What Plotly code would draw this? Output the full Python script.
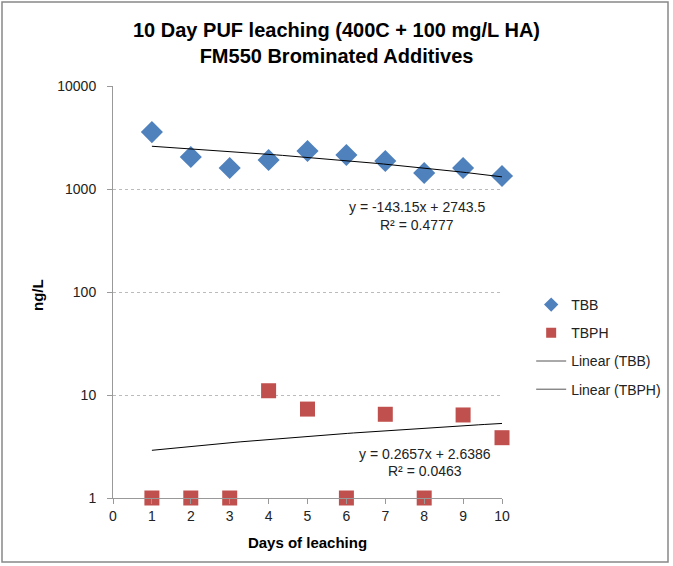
import plotly.graph_objects as go
import numpy as np

days = [1, 2, 3, 4, 5, 6, 7, 8, 9, 10]
tbb = [3570, 2045, 1600, 1915, 2340, 2140, 1870, 1430, 1600, 1337]
tbph = [1, 1, 1, 11.0, 7.3, 1, 6.5, 1, 6.4, 3.85]
tbb_fit = (-143.15, 2743.5)
tbph_fit = (0.2657, 2.6386)
x_ticks = [0, 1, 2, 3, 4, 5, 6, 7, 8, 9, 10]
y_ticks = [1, 10, 100, 1000, 10000]

FONT = "Liberation Sans"
BLUE = "#4F81BD"
RED = "#C0504D"
xs = np.linspace(1, 10, 60)

fig = go.Figure()
fig.add_trace(go.Scatter(x=days, y=tbb, mode="markers", name="TBB", showlegend=False,
                         marker=dict(symbol="diamond", size=17, color=BLUE), cliponaxis=False))
fig.add_trace(go.Scatter(x=days, y=tbph, mode="markers", name="TBPH", showlegend=False,
                         marker=dict(symbol="square", size=15, color=RED), cliponaxis=False))
fig.add_trace(go.Scatter(x=xs, y=tbb_fit[0] * xs + tbb_fit[1], mode="lines", name="Linear (TBB)",
                         showlegend=False, line=dict(color="black", width=1)))
fig.add_trace(go.Scatter(x=xs, y=tbph_fit[0] * xs + tbph_fit[1], mode="lines", name="Linear (TBPH)",
                         showlegend=False, line=dict(color="black", width=1)))

# legend entries (smaller symbols as in the reference)
fig.add_trace(go.Scatter(x=[None], y=[None], mode="markers", name="TBB", legendgroup="a",
                         marker=dict(symbol="diamond", size=11, color=BLUE)))
fig.add_trace(go.Scatter(x=[None], y=[None], mode="markers", name="TBPH", legendgroup="b",
                         marker=dict(symbol="square", size=10, color=RED)))
fig.add_trace(go.Scatter(x=[None], y=[None], mode="lines", name="Linear (TBB)", legendgroup="c",
                         line=dict(color="#555", width=1)))
fig.add_trace(go.Scatter(x=[None], y=[None], mode="lines", name="Linear (TBPH)", legendgroup="d",
                         line=dict(color="#555", width=1)))

def ann(x, y, text, size=14, color="#222", angle=0):
    fig.add_annotation(x=x, y=y, xref="paper", yref="paper", text=text, showarrow=False,
                       font=dict(family=FONT, size=size, color=color), textangle=angle,
                       xanchor="center", yanchor="middle")

ann((417 - 113) / 389, (498 - 207) / 412, "y = -143.15x + 2743.5")
ann((417 - 113) / 389, (498 - 225) / 412, "R² = 0.4777")
ann((425 - 113) / 389, (498 - 454) / 412, "y = 0.2657x + 2.6386")
ann((425 - 113) / 389, (498 - 471) / 412, "R² = 0.0463")
ann((37 - 113) / 389, (498 - 295) / 412, "<b>ng/L</b>", size=15, color="black", angle=-90)
ann((336 - 113) / 389, (498 - 43) / 412,
    "<b>10 Day PUF leaching (400C + 100 mg/L HA)<br>FM550 Brominated Additives</b>",
    size=20, color="black")

fig.update_layout(
    width=673, height=566,
    margin=dict(l=113, r=171, t=86, b=68, autoexpand=False),
    paper_bgcolor="white", plot_bgcolor="white",
    font=dict(family=FONT, size=14, color="#222"),
    showlegend=True,
    legend=dict(x=1.075, y=(498 - 347) / 412, xanchor="left", yanchor="middle", tracegroupgap=7,
                font=dict(family=FONT, size=14, color="#222"), bgcolor="rgba(0,0,0,0)"),
    xaxis=dict(range=[0, 10], tickvals=x_ticks, ticktext=[str(v) for v in x_ticks],
               showgrid=False, zeroline=False, showline=True, linecolor="#999", linewidth=1,
               ticks="outside", ticklen=5, tickcolor="#999", tickfont=dict(size=14),
               title=dict(text="<b>Days of leaching</b>", font=dict(family=FONT, size=15, color="black"), standoff=14)),
    yaxis=dict(type="log", range=[0, 4], tickvals=y_ticks, ticktext=[str(v) for v in y_ticks],
               showgrid=True, gridcolor="#BBBBBB", griddash="3px,3px", gridwidth=1,
               zeroline=False, showline=True, linecolor="#999", linewidth=1,
               ticks="outside", ticklen=5, tickcolor="#999", tickfont=dict(size=14),
               ticklabelstandoff=8),
)
fig.add_shape(type="rect", xref="paper", yref="paper", x0=-111 / 389, x1=1 + 166 / 389,
              y0=-64 / 412, y1=1 + 84 / 412, line=dict(color="#888", width=1.5), fillcolor="rgba(0,0,0,0)")

fig.write_html("out.html")
